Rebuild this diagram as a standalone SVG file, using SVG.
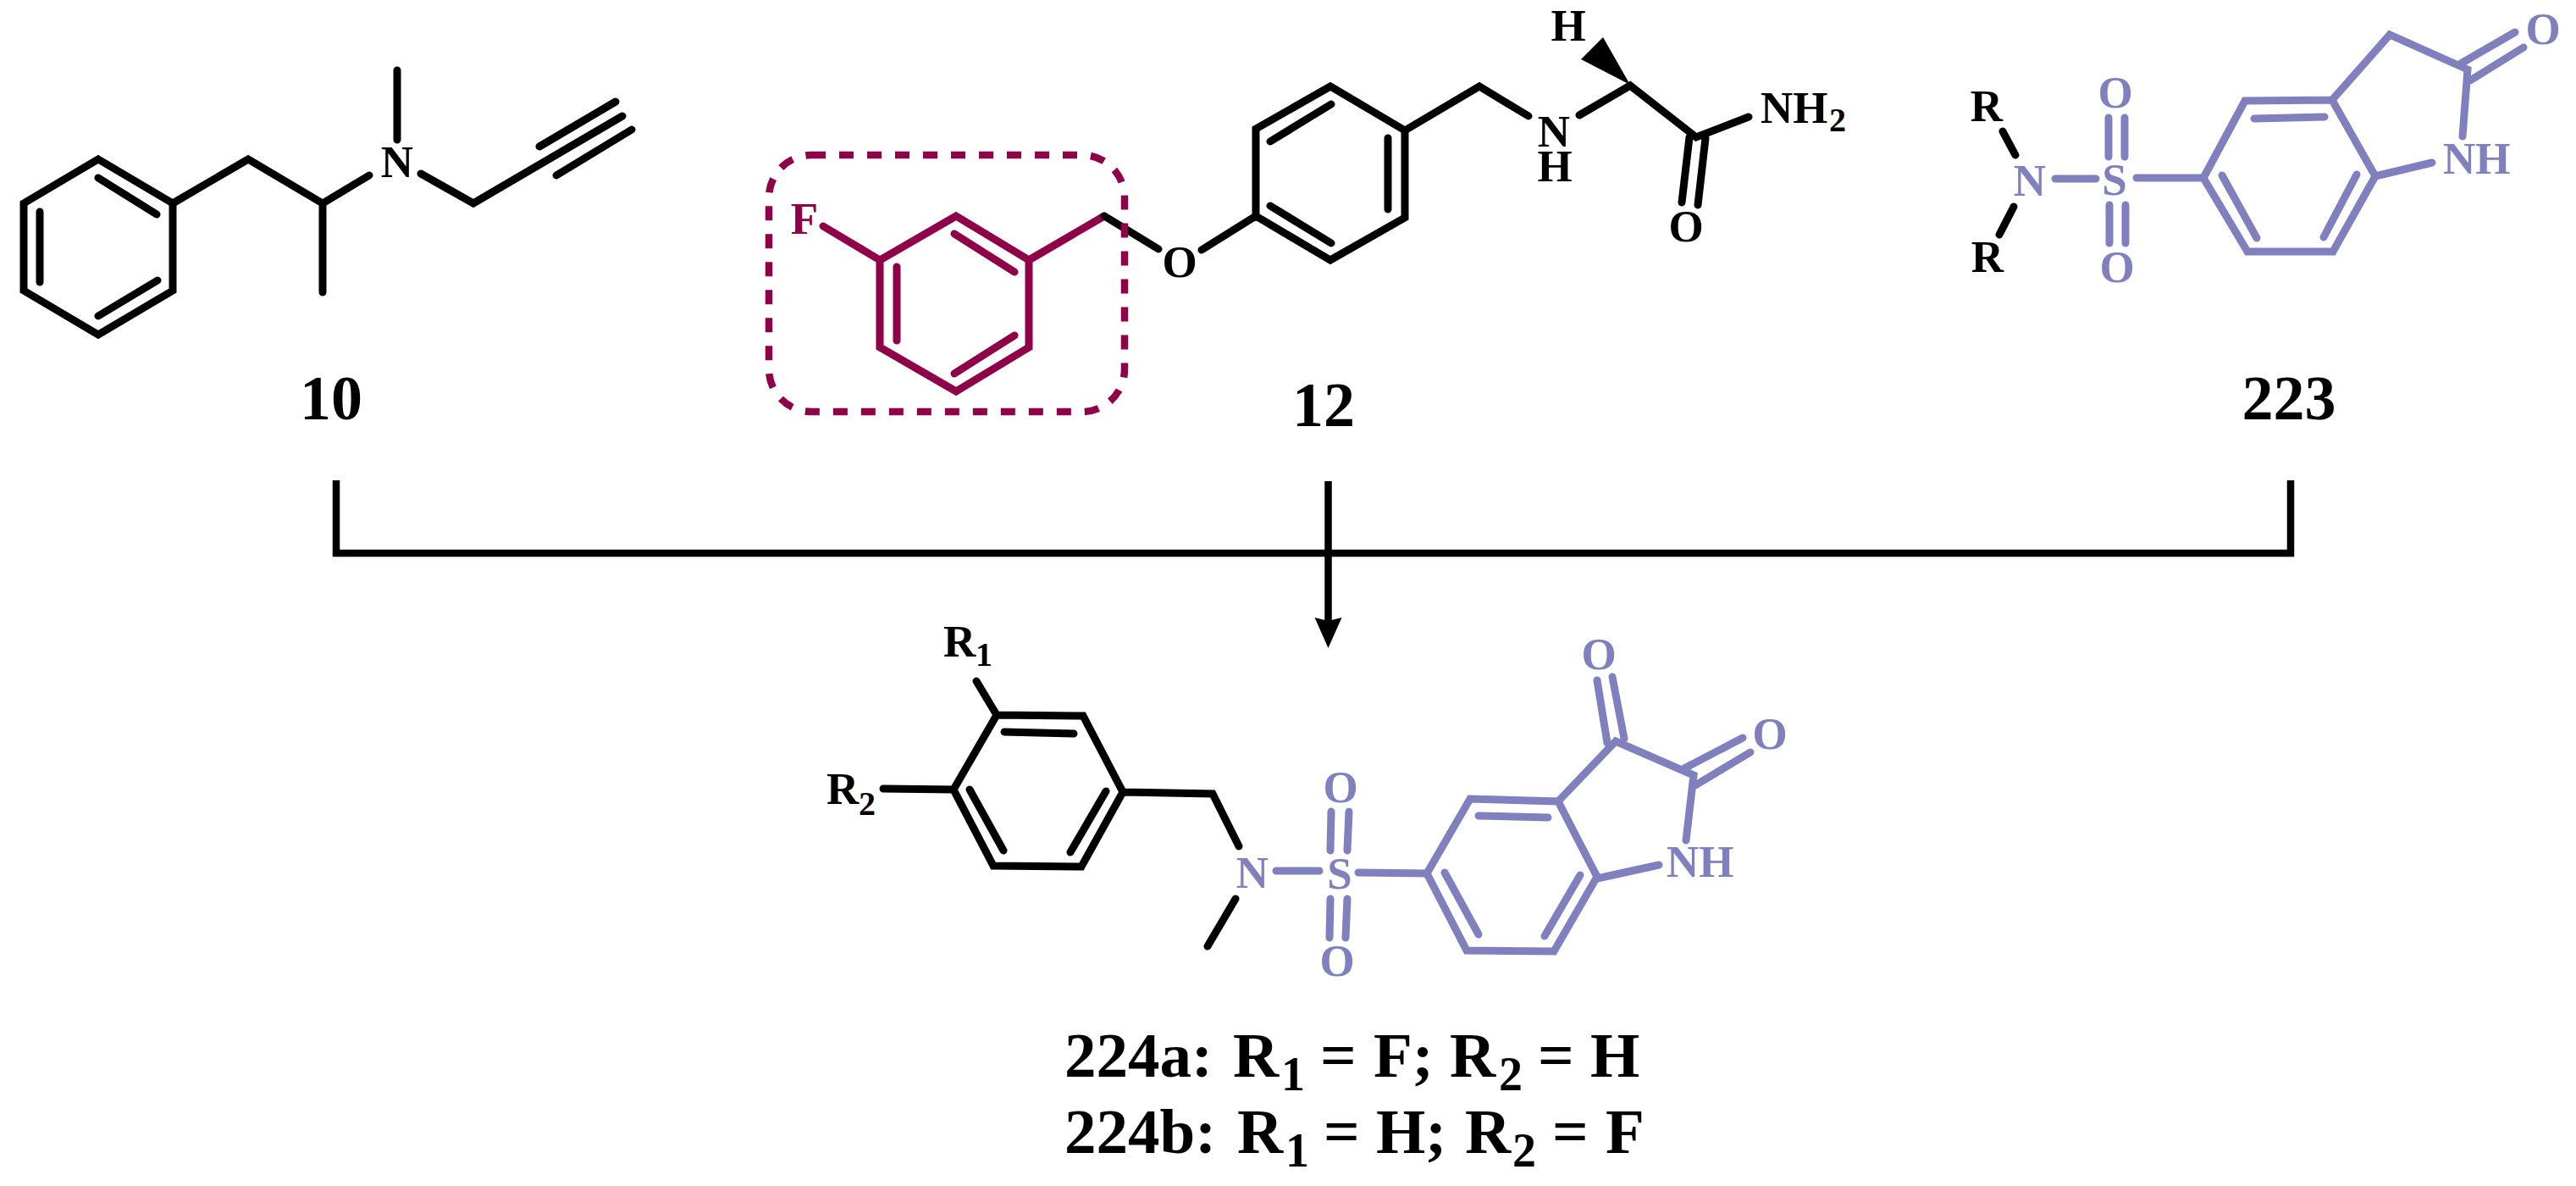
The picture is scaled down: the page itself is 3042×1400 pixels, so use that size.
<svg xmlns="http://www.w3.org/2000/svg" width="3042" height="1400" viewBox="0 0 3042 1400">
<style>
text{font-family:"Liberation Serif","Times New Roman",serif;font-weight:bold}
.a{font-size:53px}
.m{text-anchor:middle}
.s{font-size:40px}
.n{font-size:74px;text-anchor:middle}
.t{font-size:75px}
.u{font-size:56px}
.k{fill:#000}
.b{fill:#8080be}
.p{fill:#8e0047}
.lk,.lb,.lp{fill:none;stroke-width:9;stroke-linecap:round;stroke-linejoin:miter}
.lk{stroke:#000}
.lb{stroke:#8080be}
.lp{stroke:#8e0047}
.c{fill:none;stroke:#000;stroke-width:8.5}
</style>
<defs>
<marker id="head" markerUnits="userSpaceOnUse" markerWidth="36" markerHeight="34" viewBox="0 0 36 32" refX="4" refY="16" orient="auto"><path d="M0 0L36 16L0 32L4 16Z" fill="#000"/></marker>
</defs>
<rect width="3042" height="1400" fill="#fff"/>
<g id="compound-10">
<path class="lk" d="M116 188L204 240V343L116 395L28 343V240ZM116 210L185 253M47 250V333M186 331L116 373M204 240L293 188L381 240L436 207M381 240V345M469 83V165M497 205L559 240L735 137M637 173L727 120M657 207L746 153"/>
<text class="a k m" x="469" y="209">N</text>
<text class="n k" x="391" y="495">10</text>
</g>
<g id="compound-12">
<path class="lp" d="M1129 255L1215 307V410L1129 462L1039 410V307ZM1127 276L1198 321M1059 315V402M1127 441L1198 396M1039 307L972 267M1215 307L1304 255"/>
<path class="lk" d="M1304 255L1368 294M1419 295L1483 255M1483 255L1571 307L1659 257V154L1571 102L1483 152ZM1500 167L1572 123M1639 163V247M1500 243L1572 287M1659 154L1747 102L1805 137M1865 136L1925 101L2003 162L2065 138M1995 162L1986 239M2014 163L2005 242"/>
<path class="k" d="M1925 100L1893 44L1867 70Z"/>
<rect x="908" y="183" width="420" height="303" rx="50" ry="50" fill="none" stroke="#8e0047" stroke-width="8.5" stroke-dasharray="17 16"/>
<text class="a p m" x="950" y="276">F</text>
<text class="a k m" x="1393" y="327">O</text>
<text class="a k m"><tspan x="1835" y="173">N</tspan><tspan x="1836" y="214">H</tspan></text>
<text class="a k m" x="1852" y="48">H</text>
<text class="a k m" x="1991" y="285">O</text>
<text class="a k" x="2079" y="145">NH</text>
<text class="s k" x="2160" y="155">2</text>
<text class="n k" x="1563" y="503">12</text>
</g>
<g id="compound-223">
<path class="lb" d="M2651 119L2754 118L2805 208L2755 297L2654 297L2602 210ZM2662 140L2745 138M2624 207L2665 281M2783 206L2744 280M2754 118L2822 41L2914 82L2908 161M2906 75L2970 38M2917 95L2980 56M2805 208L2872 192M2523 210L2602 210M2427 211L2475 211M2490 139V185M2509 139V185M2491 242V287M2510 242V287"/>
<path class="lk" d="M2365 155L2380 183M2378 244L2361 277"/>
<text class="a b m" x="3003" y="52">O</text>
<text class="a b" x="2885" y="205">NH</text>
<text class="a b m" x="2497" y="230">S</text>
<text class="a b m" x="2397" y="231">N</text>
<text class="a b m" x="2498" y="127">O</text>
<text class="a b m" x="2500" y="333">O</text>
<text class="a k m" x="2346" y="143">R</text>
<text class="a k m" x="2347" y="321">R</text>
<text class="n k" x="2703" y="495">223</text>
</g>
<g id="compound-224">
<path class="lk" d="M1177 844L1279 845L1326 935L1277 1023L1173 1022L1126 932ZM1186 864L1268 866M1145 932L1185 1004M1306 934L1264 1006M1177 844L1153 804M1126 932L1043 931M1326 935L1432 937L1463 999M1459 1061L1426 1117"/>
<path class="lb" d="M1507 1028L1558 1028M1604 1030L1685 1031M1685 1031L1736 943L1840 946L1886 1035L1835 1123L1732 1122ZM1746 963L1828 965M1706 1030L1746 1103M1866 1033L1824 1105M1840 946L1908 875L2000 915L1991 992M1886 803L1898 877M1904 799L1918 872M1989 907L2058 871M2002 927L2067 888M1886 1037L1959 1021M1572 958L1571 1004M1593 958L1591 1004M1571 1061L1570 1107M1591 1061L1589 1107"/>
<text class="a k" x="1114" y="775">R</text>
<text class="s k" x="1152" y="786">1</text>
<text class="a k" x="976" y="949">R</text>
<text class="s k" x="1014" y="962">2</text>
<text class="a b m" x="1479" y="1048">N</text>
<text class="a b m" x="1582" y="1049">S</text>
<text class="a b m" x="1583" y="947">O</text>
<text class="a b m" x="1579" y="1152">O</text>
<text class="a b m" x="1888" y="790">O</text>
<text class="a b m" x="2090" y="884">O</text>
<text class="a b" x="1968" y="1035">NH</text>
<text class="t k"><tspan x="1257" y="1271">224a:</tspan><tspan x="1456" y="1271">R</tspan><tspan class="u" x="1513" y="1287">1</tspan><tspan x="1559" y="1271">=</tspan><tspan x="1622" y="1271">F;</tspan><tspan x="1712" y="1271">R</tspan><tspan class="u" x="1770" y="1287">2</tspan><tspan x="1816" y="1271">=</tspan><tspan x="1878" y="1271">H</tspan></text>
<text class="t k"><tspan x="1257" y="1361">224b:</tspan><tspan x="1461" y="1361">R</tspan><tspan class="u" x="1518" y="1377">1</tspan><tspan x="1563" y="1361">=</tspan><tspan x="1625" y="1361">H;</tspan><tspan x="1730" y="1361">R</tspan><tspan class="u" x="1786" y="1377">2</tspan><tspan x="1833" y="1361">=</tspan><tspan x="1896" y="1361">F</tspan></text>
</g>
<g id="connectors">
<path class="c" d="M397 567V653H2705V567"/>
<line class="c" x1="1568.5" y1="568" x2="1568.5" y2="733" marker-end="url(#head)"/>
</g>
</svg>
